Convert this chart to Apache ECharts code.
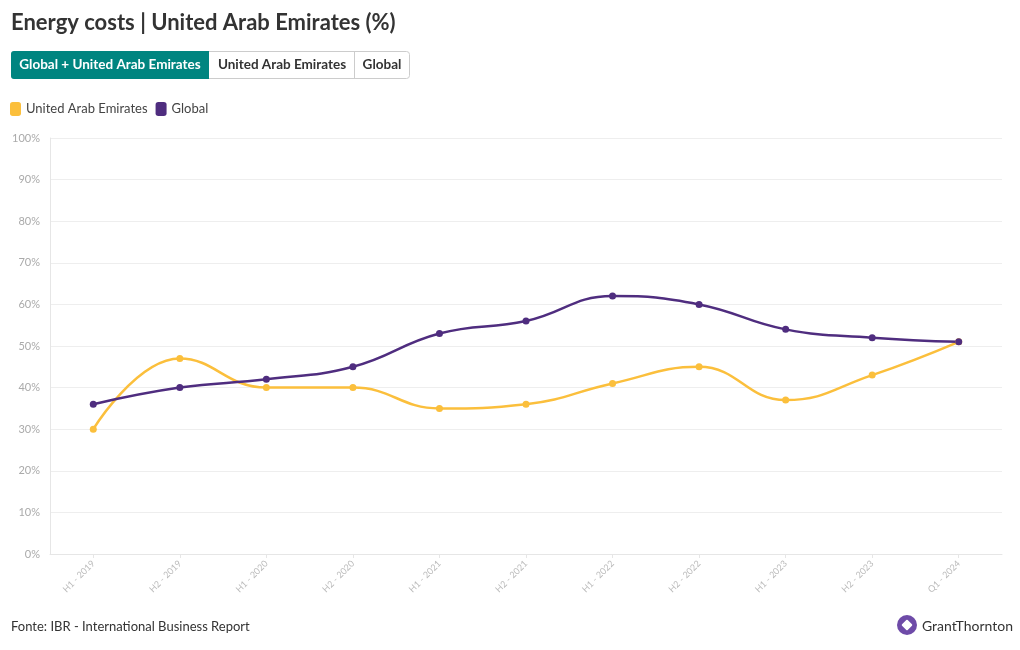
<!DOCTYPE html>
<html><head><meta charset="utf-8">
<script src="https://cdn.jsdelivr.net/npm/echarts@6/dist/echarts.min.js"></script>
<style>html,body{margin:0;padding:0;background:#fff}#c{width:1020px;height:650px}</style>
</head><body><div id="c"></div>
<script>
var categories = ['H1 - 2019','H2 - 2019','H1 - 2020','H2 - 2020','H1 - 2021','H2 - 2021','H1 - 2022','H2 - 2022','H1 - 2023','H2 - 2023','Q1 - 2024'];
var uae = [30, 47, 40, 40, 35, 36, 41, 45, 37, 43, 51];
var globalVals = [36, 40, 42, 45, 53, 56, 62, 60, 54, 52, 51];
var yTicks = [0,10,20,30,40,50,60,70,80,90,100];
var FONT = 'Lato, "Noto Sans", sans-serif';
var chart = echarts.init(document.getElementById('c'));
chart.setOption({
  animation: false,
  textStyle: {fontFamily: FONT},
  title: {text: 'Energy costs | United Arab Emirates (%)', left: 11, top: 12, padding: 0,
    textStyle: {fontSize: 22, fontWeight: 'bold', color: '#333', fontFamily: FONT}},
  legend: {left: 10, top: 102, padding: 0, itemWidth: 11, itemHeight: 14, itemGap: 8, icon: 'roundRect',
    textStyle: {fontSize: 13, color: '#444', fontFamily: FONT}, data: ['United Arab Emirates','Global']},
  grid: {left: 50, right: 18, top: 138, bottom: 96},
  xAxis: {type: 'category', data: categories, boundaryGap: true,
    axisLine: {lineStyle: {color: '#e6e6e6'}}, axisTick: {show: true, alignWithLabel: true, length: 4, lineStyle: {color: '#e6e6e6'}},
    axisLabel: {rotate: 45, fontSize: 9, color: '#bbb', margin: 8, fontFamily: FONT}},
  yAxis: {type: 'value', min: 0, max: 100, interval: 10,
    axisLine: {show: true, lineStyle: {color: '#e6e6e6'}},
    splitLine: {lineStyle: {color: '#eeeeee'}},
    axisLabel: {formatter: function(v){return yTicks.indexOf(v) >= 0 ? v + '%' : '';}, fontSize: 11, color: '#aaa', margin: 10, fontFamily: FONT}},
  series: [
    {name: 'United Arab Emirates', type: 'line', data: uae, smooth: 0.45, symbol: 'circle', symbolSize: 7,
      itemStyle: {color: '#fbbf3c'}, lineStyle: {width: 2.5, color: '#fbbf3c'}},
    {name: 'Global', type: 'line', data: globalVals, smooth: 0.45, symbol: 'circle', symbolSize: 7,
      itemStyle: {color: '#4f2d7f'}, lineStyle: {width: 2.5, color: '#4f2d7f'}}
  ],
  graphic: [
    {type: 'rect', shape: {x: 11.5, y: 51.5, width: 398, height: 27, r: 3}, style: {fill: '#fff', stroke: '#cccccc', lineWidth: 1}},
    {type: 'rect', shape: {x: 11, y: 51, width: 198, height: 28, r: [3,0,0,3]}, style: {fill: '#008580'}},
    {type: 'line', shape: {x1: 354.5, y1: 52, x2: 354.5, y2: 78}, style: {stroke: '#cccccc', lineWidth: 1}},
    {type: 'text', x: 110, y: 65, style: {text: 'Global + United Arab Emirates', fill: '#fff', font: 'bold 13.5px ' + FONT, textAlign: 'center', textVerticalAlign: 'middle'}},
    {type: 'text', x: 282, y: 65, style: {text: 'United Arab Emirates', fill: '#333', font: 'bold 13.5px ' + FONT, textAlign: 'center', textVerticalAlign: 'middle'}},
    {type: 'text', x: 382, y: 65, style: {text: 'Global', fill: '#333', font: 'bold 13.5px ' + FONT, textAlign: 'center', textVerticalAlign: 'middle'}},
    {type: 'text', x: 11, y: 627, style: {text: 'Fonte: IBR - International Business Report', fill: '#333', font: '13px ' + FONT, textVerticalAlign: 'middle'}},
    {type: 'circle', shape: {cx: 907, cy: 625, r: 10}, style: {fill: '#6e4ba8'}},
    {type: 'rect', shape: {x: 903, y: 621, width: 8, height: 8, r: 1}, rotation: Math.PI/4, originX: 907, originY: 625, style: {fill: '#fff'}},
    {type: 'text', x: 922, y: 626, style: {text: 'GrantThornton', fill: '#333', font: '14px ' + FONT, textVerticalAlign: 'middle'}}
  ]
});
</script></body></html>
